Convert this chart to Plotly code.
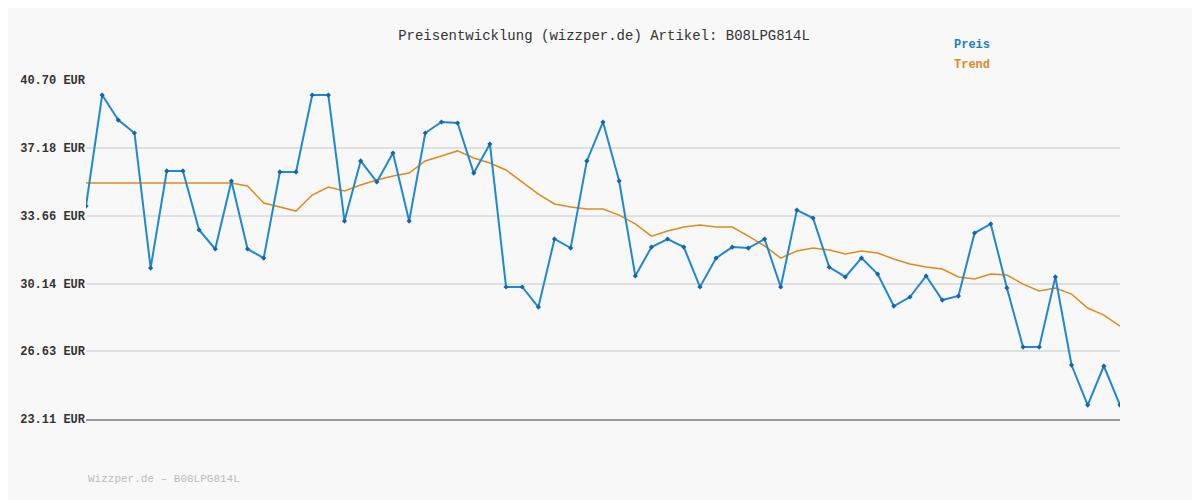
import plotly.graph_objects as go

preis = [34.16,39.92,38.62,37.95,30.94,35.98,35.98,32.92,31.93,35.46,31.93,31.46,35.93,35.93,39.92,39.92,33.38,36.50,35.41,36.91,
         33.38,37.95,38.52,38.47,35.87,37.38,29.96,29.96,28.92,32.45,31.98,36.50,38.52,35.46,30.53,32.03,32.45,32.03,29.96,31.46,
         32.03,31.98,32.45,29.96,33.95,33.54,30.99,30.48,31.46,30.63,28.97,29.44,30.53,29.28,29.49,32.76,33.23,29.91,26.84,26.84,
         30.48,25.91,23.83,25.86,23.83]
trend = [35.35]*10 + [35.20,34.32,34.11,33.90,34.73,35.15,34.94,35.25,35.51,35.72,
         35.87,36.50,36.76,37.02,36.65,36.39,36.03,35.41,34.78,34.27,
         34.11,34.01,34.01,33.69,33.23,32.60,32.86,33.07,33.18,33.07,
         33.07,32.60,32.09,31.46,31.83,31.98,31.88,31.67,31.83,31.72,
         31.41,31.15,31.00,30.89,30.48,30.37,30.63,30.58,30.11,29.75,
         29.91,29.59,28.87,28.50,27.93]
tick_vals = [23.11,26.63,30.14,33.66,37.18,40.70]
tick_text = [f"<b>{v:.2f} EUR</b>" for v in tick_vals]
x = list(range(len(preis)))

mono = "Liberation Mono"
fig = go.Figure()
fig.add_trace(go.Scatter(x=x, y=trend, mode="lines", line=dict(color="#e08a1e", width=1.5), name="Trend"))
fig.add_trace(go.Scatter(x=x, y=preis, mode="lines+markers", line=dict(color="#1f88d2", width=2),
                         marker=dict(symbol="diamond", size=4, color="#1565a8"), name="Preis"))
fig.update_layout(
    width=1192, height=492, showlegend=False,
    margin=dict(l=72, r=80, t=72, b=81),
    paper_bgcolor="#f8f8f8", plot_bgcolor="#f8f8f8",
    font=dict(family=mono, size=11, color="#333"),
    title=dict(text="Preisentwicklung (wizzper.de) Artikel: B08LPG814L", x=0.5, xanchor="center",
               y=0.955, font=dict(family=mono, size=14, color="#333")),
    xaxis=dict(range=[0, len(preis)-1], showgrid=False, showticklabels=False, zeroline=False,
               showline=True, linecolor="#999", linewidth=2, ticks=""),
    yaxis=dict(range=[23.11, 40.70], tickvals=tick_vals, ticktext=tick_text, showgrid=True,
               gridcolor="#e0e0e0", gridwidth=2, zeroline=False, ticks="",
               tickfont=dict(family=mono, size=12, color="#333")),
)
fig.add_annotation(text="<b>Preis</b>", xref="paper", yref="paper", x=0.838, y=1.13, showarrow=False,
                   xanchor="left", font=dict(family=mono, size=12, color="#1f7fc4"))
fig.add_annotation(text="<b>Trend</b>", xref="paper", yref="paper", x=0.838, y=1.07, showarrow=False,
                   xanchor="left", font=dict(family=mono, size=12, color="#e08a1e"))
fig.add_annotation(text="Wizzper.de – B08LPG814L", xref="paper", yref="paper", x=0, y=-0.2, showarrow=False,
                   xanchor="left", font=dict(family=mono, size=11, color="#bbb"))
fig.write_html("out.html")
